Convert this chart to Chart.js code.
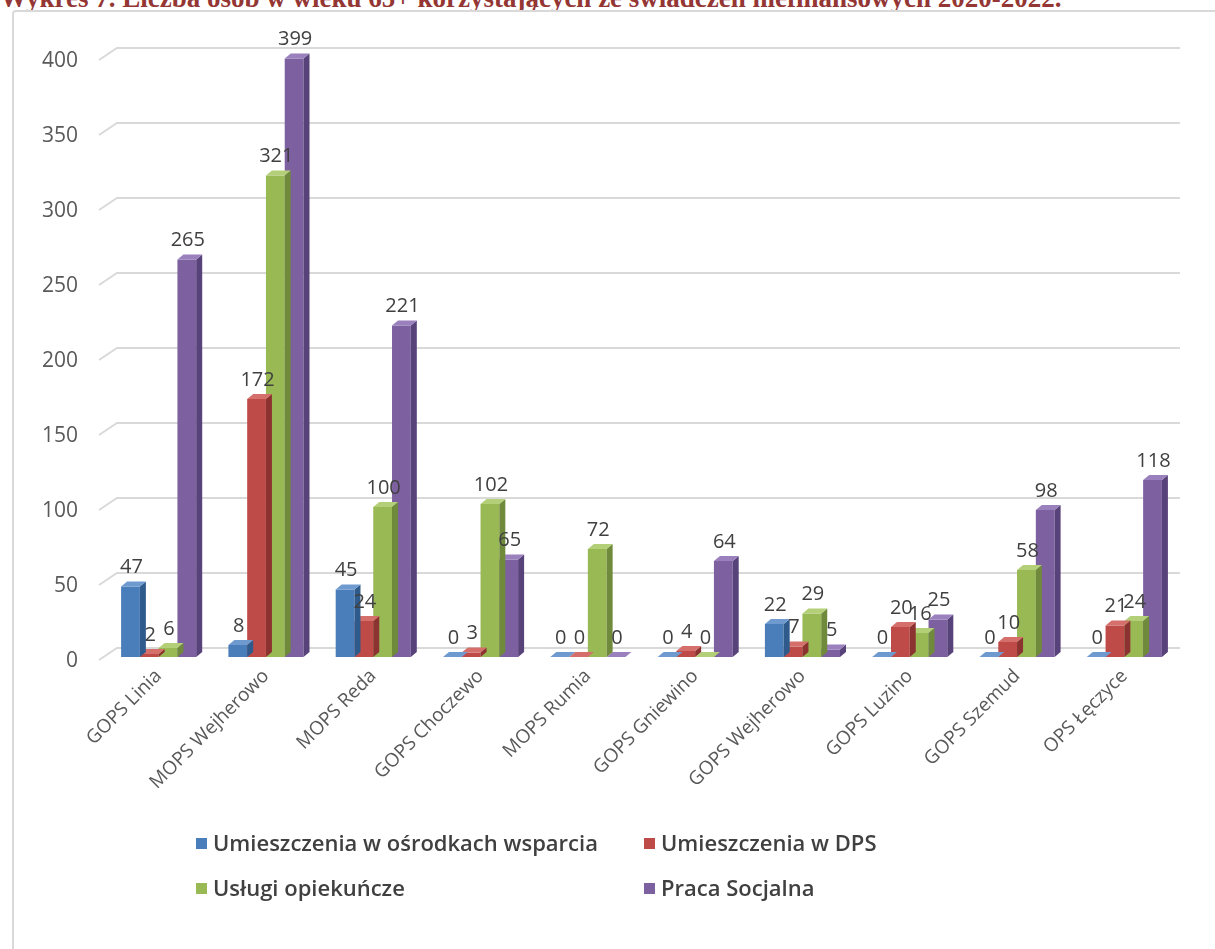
<!DOCTYPE html>
<html>
<head>
<meta charset="utf-8">
<script src="https://cdn.jsdelivr.net/npm/chart.js@4.4.1/dist/chart.umd.min.js"></script>
<style>
  body { margin: 0; background: #fff; width: 1215px; height: 949px; overflow: hidden; position: relative; }
  #title { position: absolute; left: 0; top: -15px; font: bold 27px "Liberation Serif", "Times New Roman", serif; line-height: 27px; color: #943634; white-space: nowrap; }
  #box { position: absolute; left: 12px; top: 10px; width: 1240px; height: 960px; border: 2px solid #d9d9d9; border-radius: 4px; background: #fff; }
  #wrap { position: absolute; left: 0; top: 0; width: 1215px; height: 949px; }
  #legend { position: absolute; left: 196px; top: 827px; font: 600 22px "Open Sans", sans-serif; color: #404040; }
  .item { position: absolute; white-space: nowrap; line-height: 30px; }
  .item span { display: inline-block; width: 11px; height: 11px; margin-right: 6px; vertical-align: 2px; }
</style>
</head>
<body>
<div id="title">Wykres 7. Liczba osób w wieku 65+ korzystających ze świadczeń niefinansowych 2020-2022.</div>
<div id="box"></div>
<div id="wrap"><canvas id="chart1"></canvas></div>
<div id="legend"></div>
<script>
// categories and series
var categories = ["GOPS Linia", "MOPS Wejherowo", "MOPS Reda", "GOPS Choczewo", "MOPS Rumia",
  "GOPS Gniewino", "GOPS Wejherowo", "GOPS Luzino", "GOPS Szemud", "OPS Łęczyce"];
var seriesNames = ["Umieszczenia w ośrodkach wsparcia", "Umieszczenia w DPS", "Usługi opiekuńcze", "Praca Socjalna"];
var osrodki = [47, 8, 45, 0, 0, 0, 22, 0, 0, 0];
var dps = [2, 172, 24, 3, 0, 4, 7, 20, 10, 21];
var uslugi = [6, 321, 100, 102, 72, 0, 29, 16, 58, 24];
var praca = [265, 399, 221, 65, 0, 64, 5, 25, 98, 118];
var yTicks = [0, 50, 100, 150, 200, 250, 300, 350, 400];

var frontColors = ["#4a7ebb", "#be4b48", "#98b954", "#7d60a0"];
var sideColors = ["#2f5b8c", "#8c3331", "#6f8a3a", "#58427a"];
var topColors = ["#6f9ad0", "#d46f6c", "#b3cf77", "#9a80bd"];

var DX = 6, DY = 5; // 3d depth of bars

// draw the side and top faces of each bar after its dataset
var bar3d = {
  id: 'bar3d',
  afterDatasetDraw: function(chart, args) {
    var ctx = chart.ctx;
    var i = args.index;
    args.meta.data.forEach(function(bar) {
      var l = bar.x - bar.width / 2, r = bar.x + bar.width / 2;
      var t = bar.y, b = bar.base;
      ctx.save();
      ctx.fillStyle = sideColors[i];
      ctx.beginPath();
      ctx.moveTo(r, t); ctx.lineTo(r + DX, t - DY); ctx.lineTo(r + DX, b - DY); ctx.lineTo(r, b);
      ctx.closePath(); ctx.fill();
      ctx.fillStyle = topColors[i];
      ctx.beginPath();
      ctx.moveTo(l, t); ctx.lineTo(l + DX, t - DY); ctx.lineTo(r + DX, t - DY); ctx.lineTo(r, t);
      ctx.closePath(); ctx.fill();
      ctx.restore();
    });
  }
};

// 3d style gridlines behind the bars
var grid3d = {
  id: 'grid3d',
  beforeDatasetsDraw: function(chart) {
    var ctx = chart.ctx, a = chart.chartArea, y = chart.scales.y;
    ctx.save();
    ctx.strokeStyle = "#d9d9d9";
    ctx.lineWidth = 2;
    yTicks.forEach(function(v) {
      var py = y.getPixelForValue(v);
      ctx.beginPath();
      ctx.moveTo(a.left - 6, py + 3);
      ctx.lineTo(a.left + 12, py - 9);
      ctx.lineTo(a.right + 2, py - 9);
      ctx.stroke();
    });
    ctx.restore();
  }
};

// value labels above bars
var valueLabels = {
  id: 'valueLabels',
  afterDatasetsDraw: function(chart) {
    var ctx = chart.ctx;
    ctx.save();
    ctx.font = '20px "Open Sans", sans-serif';
    ctx.fillStyle = "#404040";
    ctx.textAlign = "center";
    ctx.textBaseline = "bottom";
    chart.data.datasets.forEach(function(ds, i) {
      chart.getDatasetMeta(i).data.forEach(function(bar, j) {
        ctx.fillText(ds.data[j], bar.x + 1, bar.y - DY - 4);
      });
    });
    ctx.restore();
  }
};

var data = [osrodki, dps, uslugi, praca];
var ctx = document.getElementById("chart1").getContext('2d');
var chart = new Chart(ctx, {
  type: 'bar',
  data: {
    labels: categories,
    datasets: seriesNames.map(function(name, i) {
      return { label: name, data: data[i], backgroundColor: frontColors[i], borderWidth: 0,
        barPercentage: 1.0, categoryPercentage: 0.7 };
    })
  },
  options: {
    responsive: true,
    maintainAspectRatio: false,
    animation: false,
    layout: { padding: { left: 0, top: 57, right: 37, bottom: 132 } },
    plugins: { legend: { display: false }, tooltip: { enabled: false } },
    scales: {
      x: {
        grid: { display: false, drawTicks: false },
        border: { display: false },
        afterFit: function(s) { s.height = 160; },
        ticks: { color: "#595959", font: { family: "Open Sans", size: 19 }, minRotation: 45, maxRotation: 45, padding: 8 }
      },
      y: {
        min: 0, max: 400,
        grid: { display: false, drawTicks: false },
        border: { display: false },
        afterFit: function(s) { s.width = 105; },
        afterBuildTicks: function(s) { s.ticks = yTicks.map(function(v) { return { value: v }; }); },
        ticks: { color: "#595959", font: { family: "Open Sans", size: 21 }, padding: 27, labelOffset: 4 }
      }
    }
  },
  plugins: [grid3d, bar3d, valueLabels]
});

// legend in two columns
var legend = document.getElementById("legend");
var pos = [[0, 0], [448, 0], [0, 45], [448, 45]];
seriesNames.forEach(function(name, i) {
  var d = document.createElement("div");
  d.className = "item";
  d.style.left = pos[i][0] + "px";
  d.style.top = pos[i][1] + "px";
  d.innerHTML = '<span style="background:' + frontColors[i] + '"></span>' + name;
  legend.appendChild(d);
});
</script>
</body>
</html>
